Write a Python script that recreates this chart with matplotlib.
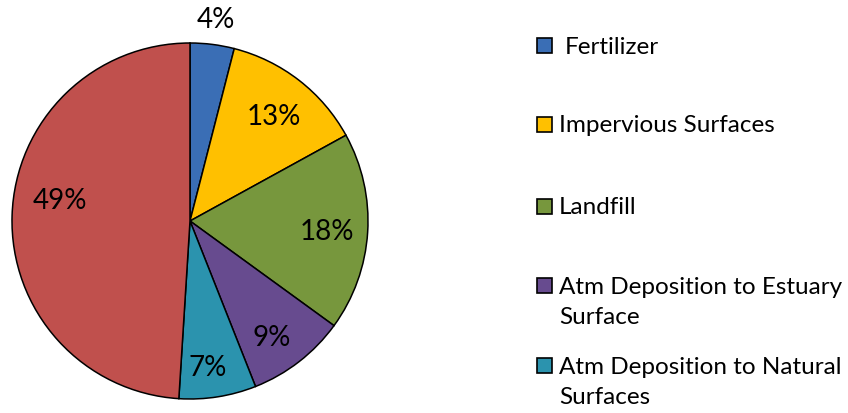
import numpy as np
import matplotlib.pyplot as plt
from matplotlib.patches import Rectangle

plt.rcParams['font.family'] = ['Lato', 'DejaVu Sans']

# slice values (percent), clockwise from 12 o'clock
values = [4, 13, 18, 9, 7, 49]
colors = ['#3A6EB5', '#FFC000', '#77973D', '#674B8F', '#2B93AE', '#C0504D']
# legend entries visible in the picture (the sixth one is cut off)
legend_labels = ['Fertilizer',
                 'Impervious Surfaces',
                 'Landfill',
                 'Atm Deposition to Estuary\nSurface',
                 'Atm Deposition to Natural\nSurfaces']

W, H = 848, 413
fig = plt.figure(figsize=(W / 100, H / 100), dpi=100)

# pie centre (190, 221) px, radius 178 px
cx, cy, r = 190, 221, 178
ax = fig.add_axes([(cx - r) / W, (H - cy - r) / H, 2 * r / W, 2 * r / H])
wedges, texts, autotexts = ax.pie(
    values, colors=colors, startangle=90, counterclock=False,
    autopct='%1.0f%%', pctdistance=0.77,
    wedgeprops=dict(edgecolor='black', linewidth=1.1),
    textprops=dict(fontsize=20, color='black'))
ax.set_xlim(-1, 1)
ax.set_ylim(-1, 1)

# label placement: (distance from centre, angle shift in degrees)
label_place = [(1.14, 0), (0.75, -1), (0.77, -1), (0.80, -3), (0.83, -2), (0.74, -7)]
for w, t, (d, da) in zip(wedges, autotexts, label_place):
    ang = np.deg2rad((w.theta1 + w.theta2) / 2 + da)
    t.set_position((d * np.cos(ang), d * np.sin(ang)))

# legend drawn by hand to match spacing
x_box, box = 537, 15
x_txt = 559
line_gap = 31
y_rows = [45.5, 124.5, 206.5, 285.5, 365.5]
for lab, col, y in zip(legend_labels, colors, y_rows):
    fig.patches.append(Rectangle((x_box / W, (H - y - box / 2) / H), box / W, box / H,
                                 transform=fig.transFigure, facecolor=col,
                                 edgecolor='black', linewidth=1.2))
    xt = x_txt + (6 if lab == 'Fertilizer' else 0)
    for i, line in enumerate(lab.split('\n')):
        fig.text(xt / W, (H - y - 8 - i * line_gap) / H, line, fontsize=17.5,
                 va='baseline', ha='left', transform=fig.transFigure)

fig.savefig('out.png', dpi=100)
